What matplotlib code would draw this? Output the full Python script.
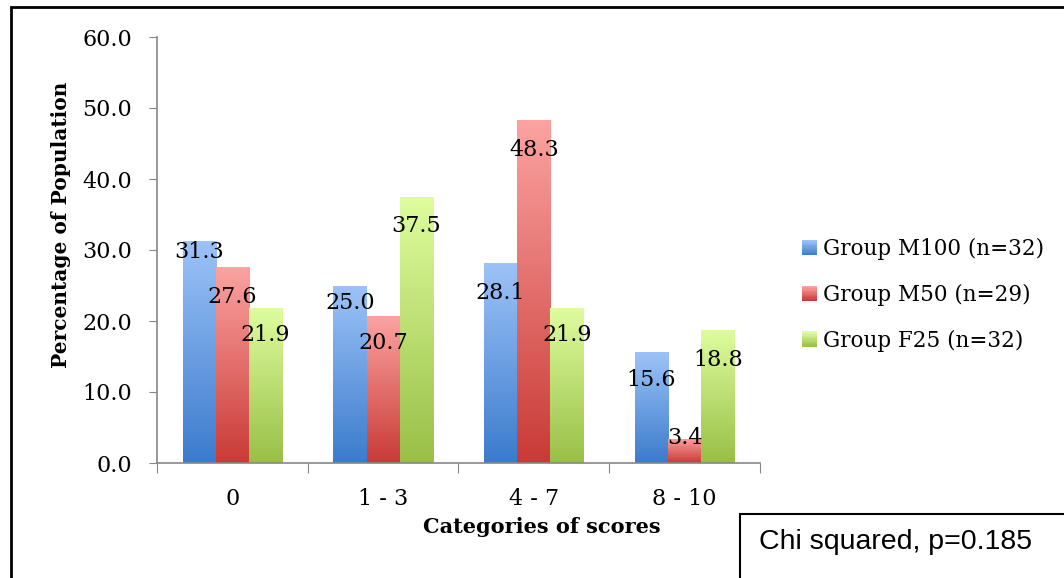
import numpy as np
import matplotlib
matplotlib.use("Agg")
import matplotlib.pyplot as plt
from matplotlib.patches import Rectangle
from matplotlib.colors import LinearSegmentedColormap
from matplotlib.legend_handler import HandlerBase

categories = ["0", "1 - 3", "4 - 7", "8 - 10"]
groups = ["Group M100 (n=32)", "Group M50 (n=29)", "Group F25 (n=32)"]
m100 = [31.3, 25.0, 28.1, 15.6]
m50 = [27.6, 20.7, 48.3, 3.4]
f25 = [21.9, 37.5, 21.9, 18.8]
series = [m100, m50, f25]

# how far each data label sits below its bar top (axis units), as placed in the original
label_drop = [[1.6, 2.5, 4.2, 3.9],
              [4.2, 3.8, 4.2, -0.1],
              [3.9, 4.1, 3.9, 4.3]]

# (top colour, bottom colour) for each group
grads = [("#9dc3f8", "#3b7bcc"), ("#fba3a1", "#c93a36"), ("#dffd9e", "#99bf47")]

plt.rcParams['font.family'] = ['DejaVu Serif']

fig = plt.figure(figsize=(10.64, 5.78), dpi=100)
ax = fig.add_axes([157 / 1064, 115 / 578, 603 / 1064, 426 / 578])

x = np.arange(len(categories))
w = 0.22
grad = np.linspace(0, 1, 256).reshape(-1, 1)
for i, vals in enumerate(series):
    cmap = LinearSegmentedColormap.from_list("g%d" % i, [grads[i][1], grads[i][0]])
    for j, v in enumerate(vals):
        xpos = x[j] + (i - 1) * w
        bar = ax.bar(xpos, v, width=w, color="none", edgecolor="none")[0]
        im = ax.imshow(grad, cmap=cmap, origin="lower", aspect="auto",
                       extent=[xpos - w / 2, xpos + w / 2, 0, v], zorder=2)
        im.set_clip_path(bar)
        ax.text(xpos, v - label_drop[i][j], "%.1f" % v, ha="center", va="center",
                fontsize=16, zorder=3)

ax.set_xlim(-0.5, 3.5)
ax.set_ylim(0, 60)
ax.set_yticks(np.arange(0, 61, 10))
ax.set_yticklabels(["%.1f" % t for t in np.arange(0, 61, 10)], fontsize=16)
ax.set_xticks(np.arange(-0.5, 3.6, 1))
ax.set_xticklabels([])
ax.set_xticks(x, minor=True)
ax.set_xticklabels(categories, minor=True, fontsize=16)
ax.tick_params(axis="x", which="major", length=7, color="#868686", direction="out")
ax.tick_params(axis="x", which="minor", length=0, pad=18)
ax.tick_params(axis="y", length=6, color="#868686", pad=12)
for s in ["top", "right"]:
    ax.spines[s].set_visible(False)
for s in ["left", "bottom"]:
    ax.spines[s].set_color("#868686")
    ax.spines[s].set_linewidth(1.2)

ax.set_xlabel("Categories of scores", fontsize=15, fontweight="bold", va="center")
ax.xaxis.set_label_coords((542 - 157) / 603, (463 - 527) / 426)
ax.set_ylabel("Percentage of Population", fontsize=14.5, fontweight="bold", va="center")
ax.yaxis.set_label_coords((61 - 157) / 603, (463 - 225) / 426)


class GradHandler(HandlerBase):
    def __init__(self, top, bottom):
        super().__init__()
        self.top = top
        self.bottom = bottom

    def create_artists(self, legend, orig_handle, xdescent, ydescent, width, height, fontsize, trans):
        cmap = LinearSegmentedColormap.from_list("l", [self.bottom, self.top])
        n = 12
        arts = []
        for k in range(n):
            arts.append(Rectangle((-xdescent, -ydescent + k * height / n), width, height / n + 0.3,
                                  facecolor=cmap(k / (n - 1)), edgecolor="none", transform=trans))
        return arts


handles = [Rectangle((0, 0), 1, 1) for _ in groups]
hmap = {h: GradHandler(*grads[i]) for i, h in enumerate(handles)}
fig.legend(handles, groups, handler_map=hmap, loc="center left",
           bbox_to_anchor=(802 / 1064, 1 - 295 / 578), frameon=False, fontsize=15.5,
           borderpad=0, borderaxespad=0,
           handlelength=0.7, handleheight=0.7, handletextpad=0.28, labelspacing=1.1)

# outer border
fig.patches.append(Rectangle((0.0103, -0.1), 1.2, 1.0873, transform=fig.transFigure,
                             fill=False, edgecolor="black", linewidth=2))
# chi squared box
fig.patches.append(Rectangle((740 / 1064, -0.1), 0.5, 0.1 + 64 / 578, transform=fig.transFigure,
                             fill=False, edgecolor="black", linewidth=1.5))
fig.text(759 / 1064, 1 - 542 / 578, "Chi squared, p=0.185", fontsize=20.5,
         family="Liberation Sans", va="center", ha="left")

fig.savefig("out.png", dpi=100)
